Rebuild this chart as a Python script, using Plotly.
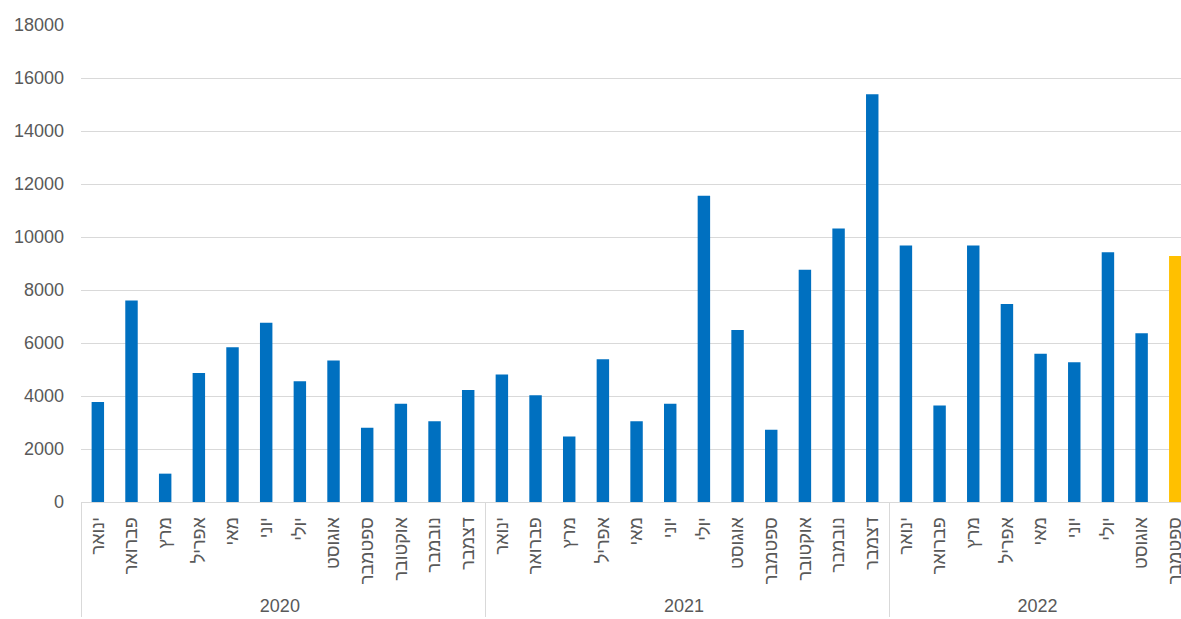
import plotly.graph_objects as go

months = ["ינואר", "פברואר", "מרץ", "אפריל", "מאי", "יוני", "יולי",
          "אוגוסט", "ספטמבר", "אוקטובר", "נובמבר", "דצמבר"]
years = ["2020", "2021", "2022"]
values_2020 = [3770, 7600, 1070, 4870, 5840, 6760, 4560, 5340, 2800, 3710, 3050, 4230]
values_2021 = [4810, 4030, 2470, 5390, 3050, 3710, 11560, 6490, 2730, 8760, 10320, 15390]
values_2022 = [9680, 3640, 9680, 7470, 5590, 5270, 9420, 6370, 9280]

series = [values_2020, values_2021, values_2022]
x_year, x_month, y = [], [], []
for yr, vals in zip(years, series):
    for i, v in enumerate(vals):
        x_year.append(yr)
        x_month.append(months[i])
        y.append(v)

BLUE = "#0070C0"
YELLOW = "#FFC000"
colors = [BLUE] * (len(y) - 1) + [YELLOW]

fig = go.Figure(go.Bar(
    x=[x_year, x_month], y=y,
    marker=dict(color=colors, line=dict(width=0)),
    width=0.37,
))

FONT = "Liberation Sans, Arial, DejaVu Sans, sans-serif"
fig.update_layout(
    width=1181, height=619,
    margin=dict(l=81, r=0, t=25, b=117),
    plot_bgcolor="white", paper_bgcolor="white",
    showlegend=False,
    font=dict(family=FONT, color="#595959", size=18),
)
fig.update_xaxes(
    type="multicategory",
    range=[-0.5, 32.17],
    tickangle=-90,
    showline=True, linecolor="#d9d9d9", linewidth=1,
    showdividers=True, dividercolor="#d9d9d9", dividerwidth=1,
    ticks="", showgrid=False,
    tickfont=dict(size=18, color="#595959"),
    ticklabelstandoff=7,
)
fig.update_yaxes(
    range=[0, 18000], dtick=2000, tickformat="d",
    showgrid=True, gridcolor="#d9d9d9", gridwidth=1,
    zeroline=False, showline=False,
    tickfont=dict(size=18, color="#595959"),
    ticklabelstandoff=16,
)

fig.write_html("out.html")
